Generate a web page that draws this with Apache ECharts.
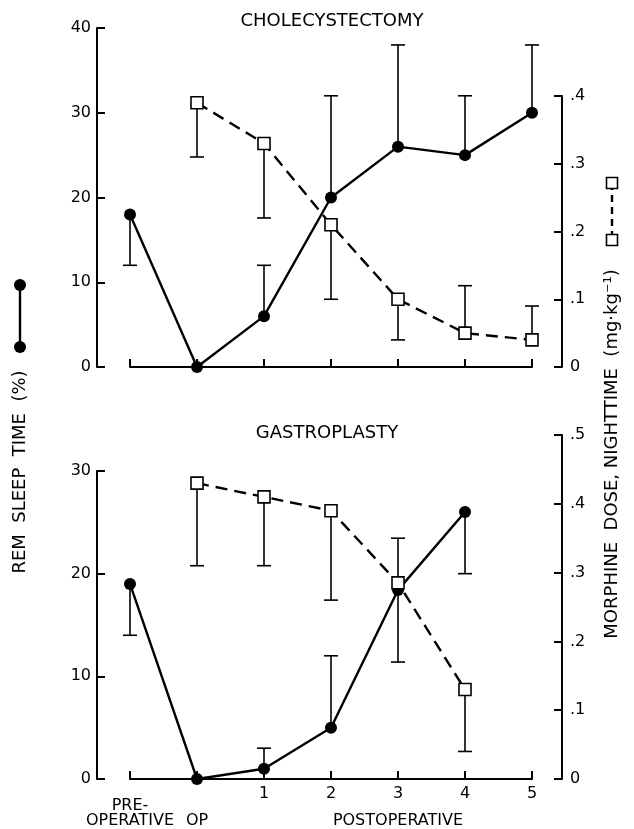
<!DOCTYPE html>
<html>
<head>
<meta charset="utf-8">
<script src="https://cdn.jsdelivr.net/npm/echarts@6/dist/echarts.min.js"></script>
<style>
  html, body { margin: 0; padding: 0; background: #fff; }
  #chart { width: 634px; height: 829px; }
</style>
</head>
<body>
<div id="chart"></div>
<script>
  // categories (nights)
  const days = ["PRE-OPERATIVE", "OP", "1", "2", "3", "4", "5"]
  const postLabel = "POSTOPERATIVE"

  // cholecystectomy: REM sleep time (%)
  const remChole = [18, 0, 6, 20, 26, 25, 30]
  const remCholeLo = [12, null, null, null, null, null, null]
  const remCholeHi = [null, null, 12, 32, 38, 32, 38]
  // cholecystectomy: morphine dose (mg/kg)
  const morChole = [null, 0.39, 0.33, 0.21, 0.10, 0.05, 0.04]
  const morCholeLo = [null, 0.31, 0.22, 0.10, 0.04, null, null]
  const morCholeHi = [null, null, null, null, null, 0.12, 0.09]

  // gastroplasty: REM sleep time (%)
  const remGastro = [19, 0, 1, 5, 18.4, 26, null]
  const remGastroLo = [14, null, null, null, null, 20, null]
  const remGastroHi = [null, null, 3, 12, null, null, null]
  // gastroplasty: morphine dose (mg/kg)
  const morGastro = [null, 0.43, 0.41, 0.39, 0.285, 0.13, null]
  const morGastroLo = [null, 0.31, 0.31, 0.26, 0.17, 0.04, null]
  const morGastroHi = [null, null, null, null, 0.35, null, null]

  const FONT = "DejaVu Sans"

  // build [x, value, end] items for error bars
  function errItems(vals, lo, hi) {
    const out = []
    vals.forEach((v, i) => {
      if (v == null) return
      if (lo[i] != null) out.push([i, v, lo[i]])
      if (hi[i] != null) out.push([i, v, hi[i]])
    })
    return out
  }

  function renderErr(params, api) {
    const p0 = api.coord([api.value(0), api.value(1)])
    const p1 = api.coord([api.value(0), api.value(2)])
    const st = { stroke: "#000", lineWidth: 1.6 }
    return {
      type: "group",
      children: [
        { type: "line", shape: { x1: p0[0], y1: p0[1], x2: p1[0], y2: p1[1] }, style: st },
        { type: "line", shape: { x1: p1[0] - 7, y1: p1[1], x2: p1[0] + 7, y2: p1[1] }, style: st }
      ]
    }
  }

  const axisLine = { show: true, lineStyle: { color: "#000", width: 2 } }
  const axisTick = { show: true, inside: true, length: 8, lineStyle: { color: "#000", width: 2 } }
  const label = { color: "#000", fontSize: 16, fontFamily: FONT }
  const fmtDose = v => (v === 0 ? "0" : v.toFixed(1).replace(/^0/, ""))

  function xAx(gridIndex, extra) {
    return Object.assign({
      type: "category",
      gridIndex: gridIndex,
      data: days,
      boundaryGap: false,
      axisLine: axisLine,
      axisTick: Object.assign({ interval: 0 }, axisTick),
      axisLabel: { show: false },
      splitLine: { show: false }
    }, extra || {})
  }

  function remLine(x, y, data) {
    return {
      type: "line", xAxisIndex: x, yAxisIndex: y, data: data, z: 3,
      symbol: "circle", symbolSize: 12,
      itemStyle: { color: "#000" },
      lineStyle: { color: "#000", width: 2.4 }
    }
  }

  function morLine(x, y, data) {
    return {
      type: "line", xAxisIndex: x, yAxisIndex: y, data: data, z: 4,
      symbol: "rect", symbolSize: 12,
      itemStyle: { color: "#fff", borderColor: "#000", borderWidth: 1.6 },
      lineStyle: { color: "#000", width: 2.4, type: [12, 7] }
    }
  }

  function errSeries(x, y, data) {
    return { type: "custom", xAxisIndex: x, yAxisIndex: y, data: data, z: 2, renderItem: renderErr }
  }

  const chart = echarts.init(document.getElementById("chart"))
  chart.setOption({
    animation: false,
    backgroundColor: "#fff",
    textStyle: { fontFamily: FONT, color: "#000" },
    title: [
      { text: "CHOLECYSTECTOMY", left: 327, top: 7, textAlign: "center",
        textStyle: { fontFamily: FONT, fontSize: 18, fontWeight: "normal", color: "#000" } },
      { text: "GASTROPLASTY", left: 322, top: 419, textAlign: "center",
        textStyle: { fontFamily: FONT, fontSize: 18, fontWeight: "normal", color: "#000" } }
    ],
    grid: [
      { left: 130, right: 102, top: 28, bottom: 462 },
      { left: 130, right: 102, top: 96, bottom: 462 },
      { left: 130, right: 102, top: 471, bottom: 50 },
      { left: 130, right: 102, top: 435, bottom: 50 }
    ],
    xAxis: [
      xAx(0),
      xAx(1, { show: false }),
      xAx(2, {
        axisLabel: Object.assign({ interval: 0, margin: 7, formatter: (v, i) => (i >= 2 ? v : "") }, label)
      }),
      xAx(3, {
        axisLine: { show: false },
        axisTick: { show: false },
        axisLabel: Object.assign({
          interval: 0, margin: 19, lineHeight: 15,
          formatter: (v, i) => (i === 0 ? "PRE-\nOPERATIVE" : i === 1 ? "\n" + v : i === 4 ? "\n" + postLabel : "")
        }, label)
      })
    ],
    yAxis: [
      { type: "value", gridIndex: 0, min: 0, max: 40, interval: 10, position: "left", offset: 33,
        axisLine: axisLine, axisTick: axisTick, splitLine: { show: false },
        axisLabel: Object.assign({ margin: 6 }, label) },
      { type: "value", gridIndex: 1, min: 0, max: 0.4, interval: 0.1, position: "right", offset: 30,
        axisLine: axisLine, axisTick: axisTick, splitLine: { show: false },
        axisLabel: Object.assign({ margin: 8, formatter: fmtDose }, label) },
      { type: "value", gridIndex: 2, min: 0, max: 30, interval: 10, position: "left", offset: 33,
        axisLine: axisLine, axisTick: axisTick, splitLine: { show: false },
        axisLabel: Object.assign({ margin: 6 }, label) },
      { type: "value", gridIndex: 3, min: 0, max: 0.5, interval: 0.1, position: "right", offset: 30,
        axisLine: axisLine, axisTick: axisTick, splitLine: { show: false },
        axisLabel: Object.assign({ margin: 8, formatter: fmtDose }, label) }
    ],
    series: [
      errSeries(0, 0, errItems(remChole, remCholeLo, remCholeHi)),
      errSeries(1, 1, errItems(morChole, morCholeLo, morCholeHi)),
      remLine(0, 0, remChole),
      morLine(1, 1, morChole),
      errSeries(2, 2, errItems(remGastro, remGastroLo, remGastroHi)),
      errSeries(3, 3, errItems(morGastro, morGastroLo, morGastroHi)),
      remLine(2, 2, remGastro),
      morLine(3, 3, morGastro)
    ],
    graphic: [
      { type: "text", x: 20, y: 472, rotation: Math.PI / 2,
        style: { text: "REM  SLEEP  TIME  (%)", fontSize: 18, fontFamily: FONT, fill: "#000",
          textAlign: "center", textVerticalAlign: "middle", align: "center", verticalAlign: "middle" } },
      { type: "line", shape: { x1: 20, y1: 285, x2: 20, y2: 347 }, style: { stroke: "#000", lineWidth: 2.4 } },
      { type: "circle", shape: { cx: 20, cy: 285, r: 6 }, style: { fill: "#000" } },
      { type: "circle", shape: { cx: 20, cy: 347, r: 6 }, style: { fill: "#000" } },
      { type: "text", x: 612, y: 454, rotation: Math.PI / 2,
        style: { text: "MORPHINE  DOSE, NIGHTTIME  (mg·kg⁻¹)", fontSize: 18, fontFamily: FONT, fill: "#000",
          textAlign: "center", textVerticalAlign: "middle", align: "center", verticalAlign: "middle" } },
      { type: "line", shape: { x1: 612, y1: 183, x2: 612, y2: 240 }, style: { stroke: "#000", lineWidth: 2.4, lineDash: [7, 5] } },
      { type: "rect", shape: { x: 606.5, y: 177.5, width: 11, height: 11 }, style: { fill: "#fff", stroke: "#000", lineWidth: 1.6 } },
      { type: "rect", shape: { x: 606.5, y: 234.5, width: 11, height: 11 }, style: { fill: "#fff", stroke: "#000", lineWidth: 1.6 } }
    ]
  })
</script>
</body>
</html>
